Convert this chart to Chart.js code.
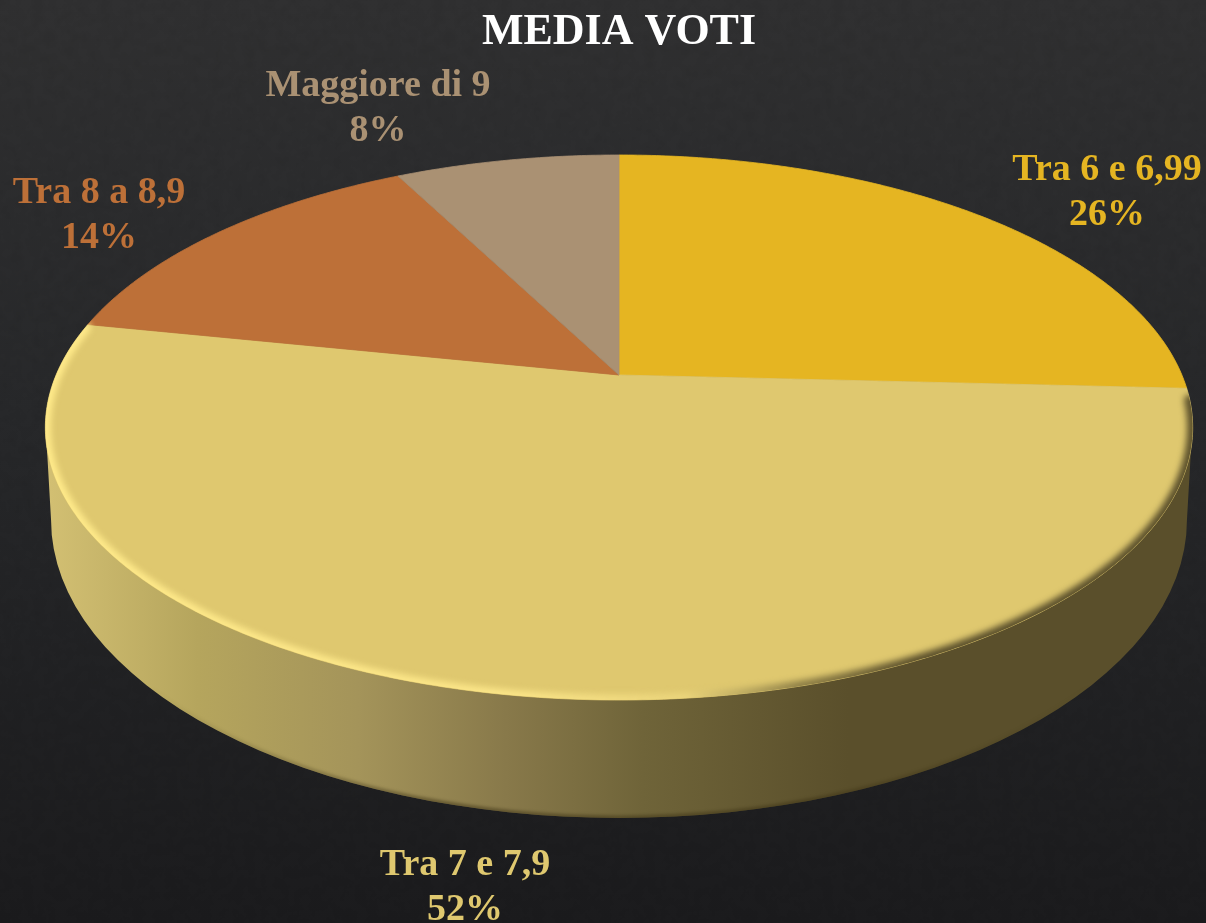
<!DOCTYPE html>
<html lang="it">
<head>
<meta charset="utf-8">
<title>Media voti</title>
<script src="https://cdn.jsdelivr.net/npm/chart.js@4/dist/chart.umd.min.js"></script>
<style>
    html, body { margin: 0; padding: 0; height: 100%; overflow: hidden; }
    body {
        background-color: #242527;
        background-image:
            url("data:image/svg+xml,%3Csvg xmlns='http://www.w3.org/2000/svg' width='400' height='400'%3E%3Cfilter id='n'%3E%3CfeTurbulence type='fractalNoise' baseFrequency='0.09' numOctaves='3' seed='4'/%3E%3CfeColorMatrix values='0 0 0 0 0 0 0 0 0 0 0 0 0 0 0 0.6 0 0 0 -0.2'/%3E%3C/filter%3E%3Crect width='400' height='400' filter='url(%23n)' opacity='0.16'/%3E%3C/svg%3E"),
            linear-gradient(180deg, #303031 0%, #27282a 45%, #1b1b1d 100%);
    }
    canvas { display: block; }
</style>
</head>
<body>
<canvas id="votiChart" width="1206" height="923"></canvas>
<script>
const categories = ['Tra 6 e 6,99', 'Tra 7 e 7,9', 'Tra 8 a 8,9', 'Maggiore di 9'];
const percentages = [25.8, 52.4, 14.2, 7.6];
const sliceColors = ['#e5b522', '#dfc86f', '#bd7038', '#aa9173'];
const labelCenters = [[1107, 170], [465, 865], [99, 193], [378, 86]];

// pie tilted in perspective: the centre is not the middle of the ellipse
const TILT = { k: 0.1927, a: 0.833, b: 1.787 };

function project(arc, angle, r) {
    const X = Math.cos(angle) * r;
    const Y = Math.sin(angle) * r;
    const w = 1 - TILT.k * Y;
    return {
        x: arc.x + arc.outerRadius * TILT.b * X / w,
        y: arc.y + arc.outerRadius * TILT.a * Y / w
    };
}

function traceRim(ctx, arc, from, to, r) {
    const steps = Math.max(2, Math.ceil(Math.abs(to - from) / 0.01));
    for (let i = 0; i <= steps; i++) {
        const p = project(arc, from + (to - from) * i / steps, r);
        ctx.lineTo(p.x, p.y);
    }
}

function drawSide(ctx, arc) {
    const R = arc.outerRadius;
    const cx = arc.x;
    const cy = arc.y + R * 0.46;
    const rx = R * 1.803;
    const ry = R * 0.946;
    const g = ctx.createLinearGradient(50, 0, 1190, 0);
    g.addColorStop(0, '#d2bf72');
    g.addColorStop(0.13, '#b5a55d');
    g.addColorStop(0.27, '#a4945a');
    g.addColorStop(0.4, '#88794a');
    g.addColorStop(0.52, '#6f6439');
    g.addColorStop(0.7, '#5a4f2b');
    g.addColorStop(1, '#5a4f2b');
    ctx.beginPath();
    ctx.moveTo(cx - R * 1.82, arc.y + R * 0.165);
    ctx.lineTo(cx - rx, cy);
    ctx.ellipse(cx, cy, rx, ry, 0, Math.PI, 0, true);
    ctx.lineTo(cx + R * 1.82, arc.y + R * 0.165);
    ctx.closePath();
    ctx.fillStyle = g;
    ctx.fill();
    // dark lip along the lower edge, fading out towards the sides
    const lip = ctx.createLinearGradient(150, 0, 1090, 0);
    lip.addColorStop(0, 'rgba(60, 50, 20, 0)');
    lip.addColorStop(0.3, 'rgba(60, 50, 20, 0.5)');
    lip.addColorStop(0.7, 'rgba(60, 50, 20, 0.5)');
    lip.addColorStop(1, 'rgba(60, 50, 20, 0)');
    ctx.save();
    ctx.clip();
    ctx.filter = 'blur(1.5px)';
    ctx.beginPath();
    ctx.ellipse(cx, cy, rx, ry, 0, Math.PI * 0.85, Math.PI * 0.15, true);
    ctx.strokeStyle = lip;
    ctx.lineWidth = 5;
    ctx.stroke();
    ctx.restore();
}

function drawBevel(ctx, arc) {
    ctx.save();
    ctx.beginPath();
    traceRim(ctx, arc, 0, Math.PI * 2, 1);
    ctx.closePath();
    ctx.clip();
    const g = ctx.createLinearGradient(45, 0, 1190, 0);
    g.addColorStop(0, '#ffea8a');
    g.addColorStop(0.4, '#fbe588');
    g.addColorStop(0.56, '#ead47b');
    g.addColorStop(0.66, '#8e7f46');
    g.addColorStop(0.76, '#5a4f2b');
    g.addColorStop(1, '#5a4f2b');
    ctx.filter = 'blur(3px)';
    ctx.beginPath();
    traceRim(ctx, arc, Math.PI * 1.06, Math.PI * 0.03, 1);
    ctx.strokeStyle = g;
    ctx.lineCap = 'round';
    ctx.lineWidth = 11;
    ctx.stroke();
    ctx.restore();
}

const tiltedPie = {
    id: 'tiltedPie',
    beforeDatasetDraw(chart) {
        const ctx = chart.ctx;
        const arcs = chart.getDatasetMeta(0).data;
        ctx.save();
        drawSide(ctx, arcs[0]);
        arcs.forEach(arc => {
            ctx.beginPath();
            ctx.moveTo(arc.x, arc.y);
            traceRim(ctx, arc, arc.startAngle, arc.endAngle, 1);
            ctx.closePath();
            ctx.fillStyle = arc.options.backgroundColor;
            ctx.strokeStyle = arc.options.backgroundColor;
            ctx.lineWidth = 0.8;
            ctx.fill();
            ctx.stroke();
        });
        drawBevel(ctx, arcs[0]);
        ctx.restore();
        return false;
    },
    afterDraw(chart) {
        const ctx = chart.ctx;
        ctx.save();
        ctx.font = 'bold 38px "Liberation Serif"';
        ctx.textAlign = 'center';
        ctx.textBaseline = 'middle';
        categories.forEach((name, i) => {
            const [x, y] = labelCenters[i];
            ctx.fillStyle = sliceColors[i];
            ctx.fillText(name, x, y);
            ctx.fillText(Math.round(percentages[i]) + '%', x, y + 45);
        });
        ctx.restore();
    }
};

new Chart(document.getElementById('votiChart'), {
    type: 'pie',
    data: {
        labels: categories,
        datasets: [{
            data: percentages,
            backgroundColor: sliceColors,
            borderWidth: 0
        }]
    },
    options: {
        responsive: false,
        animation: false,
        layout: { padding: { left: 32, right: 0, top: 0, bottom: 233 } },
        plugins: {
            legend: { display: false },
            tooltip: { enabled: false },
            title: {
                display: true,
                text: 'MEDIA VOTI',
                color: '#ffffff',
                font: { family: '"Liberation Serif"', size: 44, weight: 'bold', lineHeight: 1 },
                padding: { top: 11, bottom: 5 }
            }
        }
    },
    plugins: [tiltedPie]
});
</script>
</body>
</html>
